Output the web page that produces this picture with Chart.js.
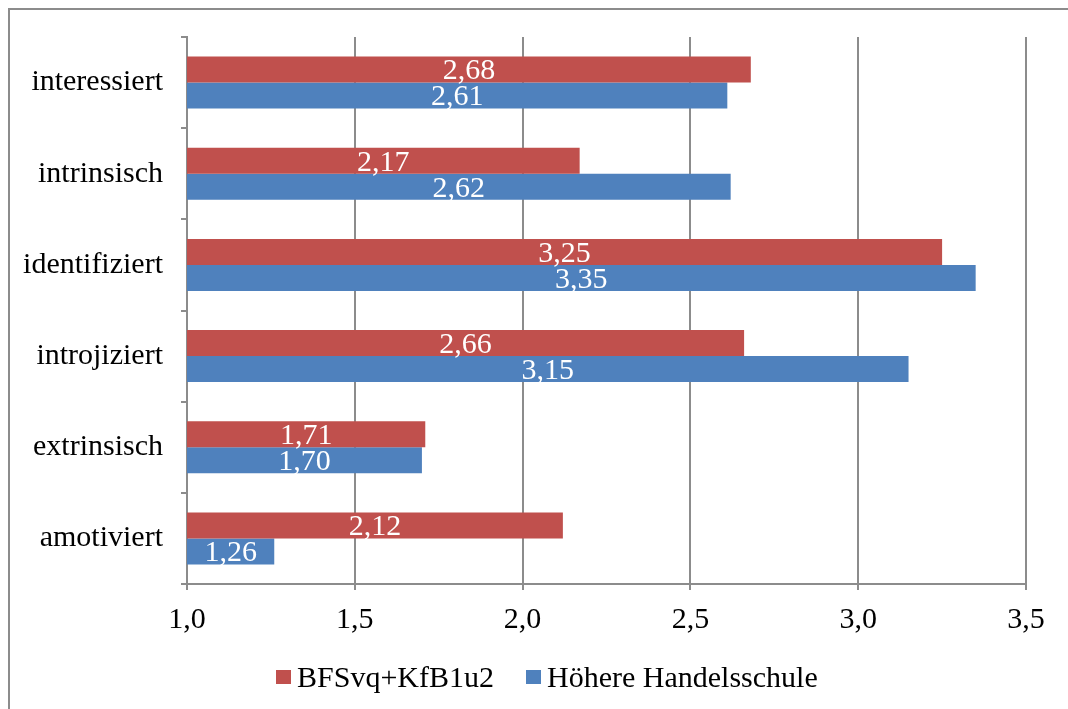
<!DOCTYPE html>
<html>
<head>
<meta charset="utf-8">
<script src="https://cdn.jsdelivr.net/npm/chart.js@4"></script>
<style>
    html, body { margin: 0; padding: 0; background: #fff; overflow: hidden; }
    #wrap { position: relative; width: 1068px; height: 709px; }
    #frame { position: absolute; left: 8px; top: 8px; width: 1200px; height: 900px;
             border-left: 2px solid #8c8c8c; border-top: 2px solid #8c8c8c; }
    canvas { position: absolute; left: 0; top: 0; }
    #legende { position: absolute; left: 276px; top: 660px; display: flex; align-items: center;
               font-family: "Liberation Serif", "Times New Roman", serif; font-size: 30px; color: #000;
               white-space: nowrap; }
    .eintrag { display: flex; align-items: center; margin-right: 32px; }
    .kasten { width: 15px; height: 14px; margin-right: 6px; }
</style>
</head>
<body>
<div id="wrap">
    <div id="frame"></div>
    <canvas id="motivChart" width="1068" height="709"></canvas>
    <div id="legende"></div>
</div>
<script>
// Daten
const kategorien = ['interessiert', 'intrinsisch', 'identifiziert', 'introjiziert', 'extrinsisch', 'amotiviert'];
const bfsWerte = [2.68, 2.17, 3.25, 2.66, 1.71, 2.12];
const hhsWerte = [2.61, 2.62, 3.35, 3.15, 1.70, 1.26];
const serienNamen = ['BFSvq+KfB1u2', 'Höhere Handelsschule'];

const FARBEN = { rot: '#C0504D', blau: '#4F81BD', grau: '#8c8c8c' };
const SCHRIFT = '"Liberation Serif", "Times New Roman", serif';

function formatZahl(v, stellen) {
    return v.toFixed(stellen).replace('.', ',');
}

// Werte mittig in die Balken schreiben
const balkenWerte = {
    id: 'balkenWerte',
    afterDatasetsDraw(chart) {
        const ctx = chart.ctx;
        const links = chart.chartArea.left;
        ctx.save();
        ctx.font = '30px ' + SCHRIFT;
        ctx.fillStyle = '#fff';
        ctx.textAlign = 'center';
        ctx.textBaseline = 'middle';
        chart.data.datasets.forEach((ds, i) => {
            chart.getDatasetMeta(i).data.forEach((bar, j) => {
                const mitte = (bar.x + Math.max(bar.base, links)) / 2;
                ctx.fillText(formatZahl(ds.data[j], 2), mitte, bar.y + 2);
            });
        });
        ctx.restore();
    }
};

const chart = new Chart(document.getElementById('motivChart'), {
    type: 'bar',
    data: {
        labels: kategorien,
        datasets: [
            { label: serienNamen[0], data: bfsWerte, backgroundColor: FARBEN.rot },
            { label: serienNamen[1], data: hhsWerte, backgroundColor: FARBEN.blau }
        ]
    },
    options: {
        indexAxis: 'y',
        responsive: false,
        animation: false,
        layout: { padding: { left: 0, right: 42, top: 37, bottom: 61 } },
        datasets: { bar: { categoryPercentage: 0.57, barPercentage: 1.0 } },
        scales: {
            x: {
                min: 1, max: 3.5,
                ticks: {
                    stepSize: 0.5,
                    color: '#000',
                    padding: 12,
                    font: { family: SCHRIFT, size: 30 },
                    callback: v => formatZahl(v, 1)
                },
                grid: { color: FARBEN.grau, lineWidth: 2, tickLength: 6 },
                border: { color: FARBEN.grau, width: 2 },
                afterFit: scale => { scale.height = 64; }
            },
            y: {
                ticks: {
                    color: '#000',
                    padding: 18,
                    font: { family: SCHRIFT, size: 30 }
                },
                grid: { drawOnChartArea: false, color: FARBEN.grau, lineWidth: 2, tickLength: 6 },
                border: { color: FARBEN.grau, width: 2 },
                afterFit: scale => { scale.width = 187; }
            }
        },
        plugins: {
            legend: { display: false },
            tooltip: { enabled: false }
        }
    },
    plugins: [balkenWerte]
});

// Legende als HTML
const legende = document.getElementById('legende');
chart.data.datasets.forEach(ds => {
    const el = document.createElement('div');
    el.className = 'eintrag';
    el.innerHTML = `<span class="kasten" style="background:${ds.backgroundColor}"></span><span>${ds.label}</span>`;
    legende.appendChild(el);
});
</script>
</body>
</html>
